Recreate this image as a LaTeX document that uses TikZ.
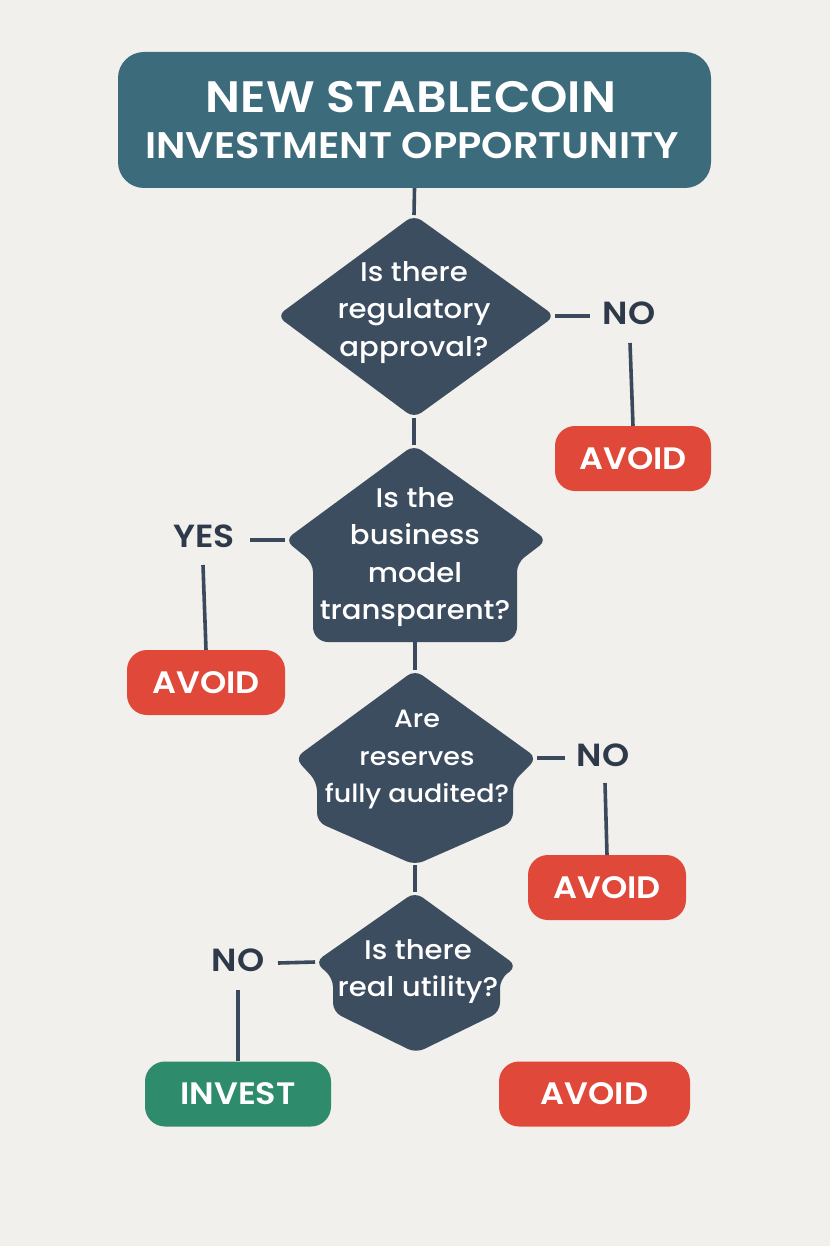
\documentclass[tikz,border=0pt]{standalone}
\usepackage{fontspec}
\IfFontExistsTF{Poppins Medium}
  {\newfontfamily\medf[FakeStretch=1.08]{Poppins Medium}}
  {\newfontfamily\medf[FakeStretch=1.08]{Poppins}}
\IfFontExistsTF{Poppins SemiBold}
  {\newfontfamily\semif[FakeStretch=1.08]{Poppins SemiBold}}
  {\newfontfamily\semif[FakeStretch=1.08]{Poppins Bold}}
\setmainfont{Poppins}
\definecolor{bg}{HTML}{F2F0EC}
\definecolor{titlec}{HTML}{3C6B7B}
\definecolor{diac}{HTML}{3D4D60}
\definecolor{linec}{HTML}{3A4A5C}
\definecolor{labc}{HTML}{2E3A4A}
\definecolor{redc}{HTML}{E0483A}
\definecolor{greenc}{HTML}{2E8C6C}
\tikzset{
  conn/.style={draw=linec, line width=3.6pt},
  dia/.style={fill=diac, rounded corners=9pt},
  qtext/.style={text=white, align=center, inner sep=0pt, font=\medf\fontsize{27}{37.5}\selectfont},
  lab/.style={text=labc, inner sep=0pt, font=\semif\fontsize{32}{32}\selectfont},
  endbox/.style={text=white, rounded corners=20pt, minimum height=65pt, inner sep=0pt, font=\semif\fontsize{31}{31}\selectfont},
  avoidbox/.style={endbox, fill=redc},
  investbox/.style={endbox, fill=greenc}
}
\begin{document}
\begin{tikzpicture}[x=1pt,y=-1pt]
\fill[bg] (0,0) rectangle (830,1246);
\useasboundingbox (0,0) rectangle (830,1246);

% title
\node[fill=titlec, rounded corners=26pt, minimum width=593pt, minimum height=136pt, inner sep=0pt] (title) at (414.5,120) {};
\node[text=white, inner sep=0pt, font=\semif\fontsize{44}{44}\selectfont] (t1) at (411,97) {NEW STABLECOIN};
\node[text=white, inner sep=0pt, font=\semif\fontsize{37}{37}\selectfont] (t2) at (412,146) {INVESTMENT OPPORTUNITY};

% diamond 1
\coordinate (d1t) at (414,215);
\coordinate (d1r) at (555,316);
\coordinate (d1b) at (414,418);
\coordinate (d1l) at (277,316);
\fill[dia] (d1t) -- (d1r) -- (d1b) -- (d1l) -- cycle;
\node[qtext] (q1) at (414,312.5) {Is there\\regulatory\\approval?};

% diamond 2
\coordinate (d2t) at (414,445);
\coordinate (d2r) at (547,540);
\coordinate (d2b) at (415,642);
\coordinate (d2l) at (285,540);
\fill[dia] (d2t) -- (d2r) -- (517,563) [rounded corners=15pt] -- (517,642) -- (313,642) [rounded corners=9pt] -- (313,563) -- (d2l) -- cycle;
\node[qtext] (q2) at (415,557) {Is the\\business\\model\\transparent?};

% diamond 3
\coordinate (d3t) at (415,670);
\coordinate (d3r) at (537,758);
\coordinate (d3b) at (415,865);
\coordinate (d3l) at (295,758);
\fill[dia] (d3t) -- (d3r) -- (513,782) -- (513,822) -- (d3b) -- (317,822) -- (317,782) -- (d3l) -- cycle;
\node[qtext, font=\medf\fontsize{25}{37.5}\selectfont] (q3) at (417,760) {Are\\reserves\\fully audited?};

% diamond 4
\coordinate (d4t) at (415,892);
\coordinate (d4r) at (517,966);
\coordinate (d4b) at (416,1053);
\coordinate (d4l) at (315,962);
\fill[dia] (d4t) -- (d4r) -- (500,979) -- (500,1012) -- (d4b) -- (333,1012) -- (333,978) -- (d4l) -- cycle;
\node[qtext] (q4) at (418,971.5) {Is there\\real utility?};

% labels
\node[lab] (no1) at (629,313) {NO};
\node[lab] (yes) at (204,536) {YES};
\node[lab] (no2) at (603,755) {NO};
\node[lab] (no3) at (238,960) {NO};

% end boxes
\node[avoidbox, minimum width=156pt] (a1) at (633,458.5) {AVOID};
\node[avoidbox, minimum width=158pt] (a2) at (206,682.5) {AVOID};
\node[avoidbox, minimum width=158pt] (a3) at (607,887.5) {AVOID};
\node[investbox, minimum width=186pt] (inv) at (238,1094) {INVEST};
\node[avoidbox, minimum width=191pt] (a4) at (594.5,1094) {AVOID};

% free ends
\coordinate (n1a) at (590,316);
\coordinate (n1b) at (630,343);
\coordinate (ya) at (250,540);
\coordinate (yb) at (203,565);
\coordinate (n2a) at (565,758);
\coordinate (n2b) at (605,783);
\coordinate (n3a) at (278,963);
\coordinate (n3b) at (238,990);

% connectors
\draw[conn] (title.south) -- (d1t);
\draw[conn] (d1b) -- (d2t);
\draw[conn] (d2b) -- (d3t);
\draw[conn] (d3b) -- (d4t);
\draw[conn] (d1r) -- (n1a);
\draw[conn] (n1b) -- (a1.north);
\draw[conn] (d2l) -- (ya);
\draw[conn] (yb) -- (a2.north);
\draw[conn] (d3r) -- (n2a);
\draw[conn] (n2b) -- (a3.north);
\draw[conn] (d4l) -- (n3a);
\draw[conn] (n3b) -- (inv.north);
\end{tikzpicture}
\end{document}
